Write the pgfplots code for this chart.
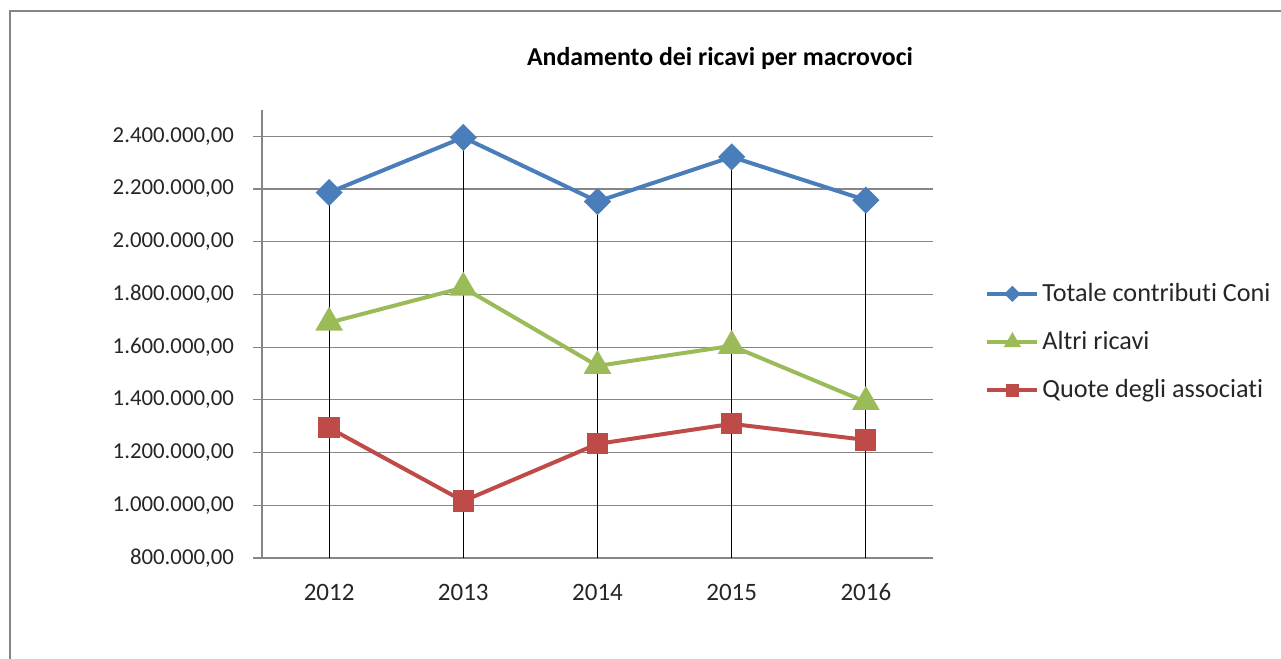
\documentclass[border=0pt]{standalone}
\usepackage{fontspec}
\setmainfont{Carlito}[Ligatures=NoCommon]
\usepackage{pgfplots}
\pgfplotsset{compat=1.18}
\definecolor{cblue}{HTML}{4A7EBB}
\definecolor{cgreen}{HTML}{9BBB59}
\definecolor{cred}{HTML}{BE4B48}
\definecolor{cgrid}{HTML}{868686}
\definecolor{ctext}{HTML}{262626}
\begin{document}
\begin{tikzpicture}[x=1pt,y=1pt]
\path[use as bounding box] (0,0) rectangle (640.5,329.5);
\draw[cgrid, line width=1.2pt] (5,-5) -- (5,324) -- (645,324);
\node[font=\bfseries\fontsize{12.9}{15}\selectfont, text=black] at (360,300.5) {Andamento dei ricavi per macrovoci};
\begin{axis}[
 at={(131pt,50.5pt)}, anchor=south west,
 scale only axis, width=335.5pt, height=224pt,
 xmin=2011.5, xmax=2016.5, ymin=800000, ymax=2500000,
 xtick={2012,2013,2014,2015,2016}, xticklabels={2012,2013,2014,2015,2016},
 ytick={800000,1000000,1200000,1400000,1600000,1800000,2000000,2200000,2400000},
 scaled y ticks=false,
 yticklabel style={/pgf/number format/fixed, /pgf/number format/fixed zerofill,
   /pgf/number format/precision=2, /pgf/number format/1000 sep={.},
   /pgf/number format/use comma, /pgf/number format/assume math mode=true, xshift=-6pt,
   font=\fontsize{11.4}{14}\selectfont},
 xticklabel style={yshift=-5pt, font=\fontsize{12.5}{15}\selectfont},
 tick label style={text=ctext},
 axis x line*=bottom, axis y line*=left,
 axis line style={-, draw=cgrid, line width=0.6pt},
 ymajorgrids, grid style={cgrid, line width=0.6pt},
 tick align=outside, major tick length=4.5pt,
 y tick style={cgrid, line width=0.6pt},
 x tick style={draw=none},
 legend style={at={(1.0775,0.482)}, anchor=west, draw=none, fill=none,
   font=\fontsize{13.1}{15}\selectfont, text=ctext, row sep=10.5pt, inner sep=0pt,
   nodes={inner sep=1.5pt}},
 legend cell align=left,
 legend image code/.code={\draw[#1, mark repeat=2, mark phase=2, every mark/.append style={scale=0.5}] plot coordinates {(0pt,0pt) (12.5pt,0pt) (25pt,0pt)};},
]
\addplot[cblue, line width=2pt, mark=square*, mark size=3.8pt, mark options={rotate=45, solid}]
 coordinates {(2012,2187000) (2013,2396000) (2014,2153000) (2015,2322000) (2016,2158000)};
\addlegendentry{Totale contributi Coni}
\addplot[cgreen, line width=2pt, mark=triangle*, mark size=6pt, mark options={solid}]
 coordinates {(2012,1693000) (2013,1826000) (2014,1529000) (2015,1605000) (2016,1392000)};
\addlegendentry{Altri ricavi}
\addplot[cred, line width=2pt, mark=square*, mark size=4.3pt, mark options={solid}]
 coordinates {(2012,1294000) (2013,1016000) (2014,1233000) (2015,1309000) (2016,1248000)};
\addlegendentry{Quote degli associati}
\addplot[black, line width=0.5pt, ycomb, no marks, forget plot]
 coordinates {(2012,2187000) (2013,2396000) (2014,2153000) (2015,2322000) (2016,2158000)};
\end{axis}
\end{tikzpicture}
\end{document}
